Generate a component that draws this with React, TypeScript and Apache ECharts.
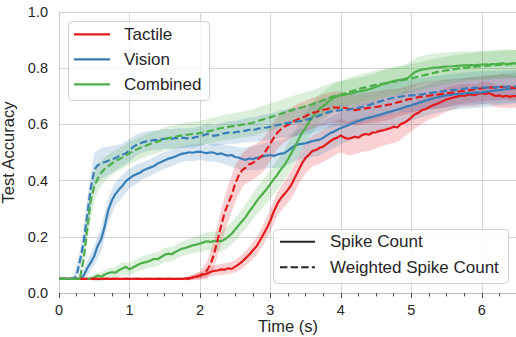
import React, { useEffect, useRef } from "react";
import * as echarts from "echarts";

// mean curves sampled every 0.05 s, from t = 0 to 6.5 s
const STEP = 0.05;
// band half-widths (std) sampled every 0.1 s
const SD_STEP = 0.1;

const xTicks = [0, 1, 2, 3, 4, 5, 6];
const yTicks = [0, 0.2, 0.4, 0.6, 0.8, 1.0];

const tactileSpike = [
  0.05, 0.05, 0.05, 0.05, 0.05, 0.05, 0.05, 0.05, 0.05, 0.05,
  0.05, 0.05, 0.05, 0.05, 0.05, 0.05, 0.05, 0.05, 0.05, 0.05,
  0.05, 0.05, 0.05, 0.05, 0.05, 0.05, 0.05, 0.05, 0.05, 0.05,
  0.05, 0.05, 0.05, 0.05, 0.05, 0.05, 0.052, 0.051, 0.056, 0.058,
  0.062, 0.066, 0.069, 0.075, 0.079, 0.08, 0.084, 0.083, 0.088, 0.086,
  0.094, 0.102, 0.112, 0.124, 0.136, 0.151, 0.165, 0.186, 0.208, 0.231,
  0.258, 0.291, 0.318, 0.338, 0.352, 0.368, 0.386, 0.412, 0.437, 0.462,
  0.481, 0.493, 0.506, 0.509, 0.517, 0.521, 0.531, 0.54, 0.548, 0.553,
  0.561, 0.553, 0.549, 0.552, 0.556, 0.553, 0.562, 0.566, 0.563, 0.571,
  0.572, 0.577, 0.579, 0.583, 0.586, 0.592, 0.589, 0.601, 0.606, 0.614,
  0.624, 0.636, 0.641, 0.651, 0.654, 0.661, 0.667, 0.672, 0.677, 0.683,
  0.689, 0.692, 0.696, 0.699, 0.703, 0.701, 0.705, 0.707, 0.704, 0.709,
  0.711, 0.708, 0.712, 0.706, 0.701, 0.703, 0.699, 0.702, 0.698, 0.701, 0.7,
];

const tactileWeighted = [
  0.05, 0.05, 0.05, 0.05, 0.05, 0.05, 0.05, 0.05, 0.05, 0.05,
  0.05, 0.05, 0.05, 0.05, 0.05, 0.05, 0.05, 0.05, 0.05, 0.05,
  0.05, 0.05, 0.05, 0.05, 0.05, 0.05, 0.05, 0.05, 0.05, 0.05,
  0.05, 0.05, 0.05, 0.05, 0.05, 0.05, 0.05, 0.053, 0.055, 0.058,
  0.062, 0.069, 0.081, 0.102, 0.138, 0.188, 0.238, 0.286, 0.318, 0.348,
  0.388, 0.418, 0.437, 0.446, 0.458, 0.463, 0.471, 0.482, 0.492, 0.512,
  0.532, 0.553, 0.571, 0.583, 0.592, 0.599, 0.607, 0.614, 0.619, 0.624,
  0.629, 0.636, 0.641, 0.644, 0.648, 0.652, 0.654, 0.658, 0.661, 0.659,
  0.662, 0.659, 0.656, 0.652, 0.651, 0.653, 0.655, 0.657, 0.659, 0.661,
  0.662, 0.664, 0.667, 0.669, 0.671, 0.674, 0.678, 0.681, 0.684, 0.689,
  0.691, 0.694, 0.697, 0.699, 0.701, 0.702, 0.704, 0.706, 0.707, 0.709,
  0.711, 0.712, 0.714, 0.716, 0.718, 0.719, 0.721, 0.723, 0.725, 0.726,
  0.728, 0.729, 0.731, 0.732, 0.731, 0.733, 0.734, 0.732, 0.731, 0.73, 0.729,
];

const visionSpike = [
  0.05, 0.05, 0.05, 0.05, 0.05, 0.05, 0.05, 0.062, 0.088, 0.108,
  0.132, 0.168, 0.192, 0.238, 0.296, 0.329, 0.352, 0.368, 0.381, 0.398,
  0.408, 0.417, 0.423, 0.428, 0.437, 0.442, 0.447, 0.452, 0.461, 0.466,
  0.472, 0.478, 0.481, 0.486, 0.491, 0.496, 0.498, 0.501, 0.499, 0.502,
  0.503, 0.5, 0.498, 0.501, 0.499, 0.494, 0.497, 0.492, 0.489, 0.491,
  0.484, 0.482, 0.477, 0.474, 0.479, 0.476, 0.481, 0.483, 0.487, 0.489,
  0.491, 0.488, 0.493, 0.496, 0.498, 0.507, 0.516, 0.524, 0.529, 0.531,
  0.533, 0.537, 0.541, 0.543, 0.546, 0.552, 0.561, 0.569, 0.574, 0.581,
  0.587, 0.592, 0.597, 0.602, 0.608, 0.612, 0.617, 0.621, 0.624, 0.627,
  0.631, 0.634, 0.638, 0.642, 0.645, 0.649, 0.652, 0.656, 0.661, 0.665,
  0.668, 0.672, 0.676, 0.68, 0.684, 0.688, 0.692, 0.695, 0.698, 0.701,
  0.703, 0.705, 0.707, 0.708, 0.709, 0.71, 0.711, 0.712, 0.713, 0.713,
  0.714, 0.716, 0.718, 0.719, 0.721, 0.722, 0.724, 0.725, 0.727, 0.728, 0.73,
];

const visionWeighted = [
  0.05, 0.05, 0.05, 0.05, 0.05, 0.061, 0.118, 0.182, 0.275, 0.372,
  0.438, 0.455, 0.462, 0.466, 0.471, 0.476, 0.48, 0.487, 0.492, 0.497,
  0.508, 0.519, 0.527, 0.532, 0.537, 0.54, 0.542, 0.545, 0.543, 0.547,
  0.549, 0.551, 0.548, 0.552, 0.55, 0.553, 0.551, 0.549, 0.552, 0.555,
  0.558, 0.561, 0.566, 0.563, 0.559, 0.562, 0.566, 0.568, 0.571, 0.569,
  0.572, 0.574, 0.576, 0.578, 0.581, 0.579, 0.583, 0.586, 0.588, 0.589,
  0.592, 0.595, 0.598, 0.6, 0.603, 0.605, 0.607, 0.609, 0.611, 0.613,
  0.616, 0.619, 0.623, 0.627, 0.632, 0.636, 0.641, 0.645, 0.648, 0.649,
  0.651, 0.653, 0.652, 0.655, 0.657, 0.659, 0.662, 0.665, 0.669, 0.673,
  0.677, 0.681, 0.685, 0.689, 0.692, 0.695, 0.698, 0.699, 0.701, 0.702,
  0.703, 0.704, 0.706, 0.707, 0.709, 0.711, 0.713, 0.715, 0.716, 0.718,
  0.72, 0.722, 0.723, 0.724, 0.726, 0.727, 0.728, 0.729, 0.73, 0.73,
  0.731, 0.731, 0.732, 0.733, 0.732, 0.733, 0.734, 0.734, 0.735, 0.734, 0.735,
];

const combinedSpike = [
  0.05, 0.05, 0.05, 0.05, 0.05, 0.05, 0.05, 0.05, 0.05, 0.052,
  0.055, 0.062, 0.058, 0.066, 0.071, 0.074, 0.072, 0.081, 0.087, 0.093,
  0.084, 0.091, 0.098, 0.104, 0.108, 0.111, 0.116, 0.122, 0.12, 0.128,
  0.136, 0.14, 0.138, 0.146, 0.152, 0.158, 0.161, 0.165, 0.17, 0.172,
  0.176, 0.18, 0.184, 0.182, 0.185, 0.186, 0.184, 0.19, 0.2, 0.211,
  0.226, 0.241, 0.256, 0.271, 0.29, 0.306, 0.325, 0.341, 0.356, 0.371,
  0.388, 0.405, 0.421, 0.44, 0.456, 0.476, 0.499, 0.521, 0.546, 0.57,
  0.589, 0.609, 0.626, 0.641, 0.656, 0.666, 0.676, 0.686, 0.695, 0.701,
  0.704, 0.706, 0.708, 0.711, 0.714, 0.717, 0.719, 0.722, 0.725, 0.729,
  0.734, 0.739, 0.744, 0.746, 0.751, 0.754, 0.757, 0.759, 0.761, 0.765,
  0.775, 0.786, 0.791, 0.795, 0.797, 0.799, 0.801, 0.802, 0.803, 0.805,
  0.806, 0.806, 0.807, 0.808, 0.809, 0.81, 0.81, 0.811, 0.81, 0.812,
  0.813, 0.814, 0.812, 0.815, 0.814, 0.816, 0.817, 0.815, 0.816, 0.818, 0.816,
];

const combinedWeighted = [
  0.05, 0.05, 0.05, 0.05, 0.05, 0.05, 0.058, 0.118, 0.228, 0.329,
  0.378, 0.408, 0.428, 0.442, 0.452, 0.461, 0.469, 0.476, 0.482, 0.49,
  0.497, 0.505, 0.511, 0.516, 0.521, 0.526, 0.531, 0.536, 0.539, 0.544,
  0.548, 0.551, 0.553, 0.556, 0.559, 0.561, 0.563, 0.564, 0.566, 0.567,
  0.569, 0.571, 0.574, 0.577, 0.58, 0.584, 0.587, 0.589, 0.591, 0.593,
  0.595, 0.597, 0.599, 0.601, 0.603, 0.606, 0.61, 0.614, 0.618, 0.622,
  0.626, 0.63, 0.634, 0.638, 0.642, 0.646, 0.65, 0.654, 0.657, 0.661,
  0.664, 0.668, 0.672, 0.676, 0.681, 0.686, 0.691, 0.696, 0.7, 0.703,
  0.706, 0.71, 0.714, 0.718, 0.722, 0.726, 0.729, 0.732, 0.735, 0.738,
  0.741, 0.743, 0.745, 0.748, 0.75, 0.752, 0.754, 0.756, 0.759, 0.761,
  0.764, 0.767, 0.77, 0.773, 0.776, 0.779, 0.782, 0.785, 0.788, 0.79,
  0.792, 0.794, 0.796, 0.798, 0.8, 0.801, 0.802, 0.804, 0.805, 0.806,
  0.807, 0.808, 0.809, 0.81, 0.811, 0.812, 0.812, 0.813, 0.814, 0.814, 0.815,
];

const tactileSpikeSd = [
  0, 0, 0, 0, 0, 0, 0, 0, 0, 0,
  0, 0, 0, 0, 0, 0, 0, 0, 0.004, 0.008,
  0.012, 0.015, 0.018, 0.02, 0.02, 0.022, 0.025, 0.028, 0.032, 0.036,
  0.04, 0.042, 0.045, 0.05, 0.052, 0.055, 0.055, 0.057, 0.058, 0.06,
  0.06, 0.06, 0.062, 0.06, 0.058, 0.057, 0.055, 0.055, 0.052, 0.05,
  0.048, 0.047, 0.045, 0.045, 0.044, 0.043, 0.042, 0.04, 0.04, 0.04,
  0.04, 0.04, 0.04, 0.04, 0.04, 0.04,
];

const tactileWeightedSd = [
  0, 0, 0, 0, 0, 0, 0, 0, 0, 0,
  0, 0, 0, 0, 0, 0, 0, 0, 0.005, 0.01,
  0.015, 0.03, 0.05, 0.06, 0.065, 0.065, 0.06, 0.06, 0.06, 0.06,
  0.06, 0.058, 0.055, 0.055, 0.055, 0.055, 0.055, 0.055, 0.055, 0.055,
  0.055, 0.055, 0.055, 0.055, 0.055, 0.055, 0.055, 0.055, 0.05, 0.05,
  0.05, 0.05, 0.05, 0.05, 0.05, 0.05, 0.045, 0.045, 0.045, 0.045,
  0.045, 0.045, 0.045, 0.045, 0.045, 0.045,
];

const visionSpikeSd = [
  0, 0, 0, 0.005, 0.025, 0.035, 0.045, 0.045, 0.04, 0.04,
  0.035, 0.035, 0.03, 0.03, 0.03, 0.03, 0.03, 0.028, 0.028, 0.03,
  0.03, 0.03, 0.032, 0.034, 0.036, 0.038, 0.04, 0.042, 0.044, 0.045,
  0.046, 0.048, 0.05, 0.052, 0.054, 0.055, 0.056, 0.057, 0.058, 0.058,
  0.058, 0.058, 0.058, 0.057, 0.056, 0.055, 0.055, 0.055, 0.055, 0.055,
  0.055, 0.055, 0.055, 0.055, 0.055, 0.055, 0.055, 0.055, 0.055, 0.055,
  0.055, 0.055, 0.055, 0.055, 0.055, 0.055,
];

const visionWeightedSd = [
  0, 0, 0.005, 0.035, 0.06, 0.06, 0.055, 0.05, 0.045, 0.04,
  0.04, 0.038, 0.036, 0.035, 0.035, 0.035, 0.035, 0.035, 0.035, 0.035,
  0.035, 0.036, 0.037, 0.038, 0.04, 0.041, 0.042, 0.044, 0.045, 0.046,
  0.047, 0.048, 0.05, 0.05, 0.052, 0.053, 0.054, 0.055, 0.055, 0.056,
  0.056, 0.057, 0.057, 0.058, 0.058, 0.058, 0.058, 0.058, 0.058, 0.058,
  0.058, 0.058, 0.058, 0.058, 0.058, 0.058, 0.058, 0.058, 0.058, 0.058,
  0.058, 0.058, 0.058, 0.058, 0.058, 0.058,
];

const combinedSpikeSd = [
  0, 0, 0, 0, 0, 0.012, 0.016, 0.018, 0.02, 0.022,
  0.022, 0.022, 0.024, 0.024, 0.025, 0.025, 0.026, 0.026, 0.027, 0.028,
  0.03, 0.032, 0.034, 0.036, 0.038, 0.04, 0.042, 0.045, 0.047, 0.05,
  0.052, 0.054, 0.055, 0.056, 0.056, 0.055, 0.054, 0.052, 0.05, 0.05,
  0.05, 0.05, 0.05, 0.05, 0.05, 0.05, 0.05, 0.05, 0.05, 0.05,
  0.05, 0.05, 0.05, 0.05, 0.05, 0.05, 0.05, 0.05, 0.05, 0.05,
  0.05, 0.05, 0.05, 0.05, 0.05, 0.05,
];

const combinedWeightedSd = [
  0, 0, 0, 0.01, 0.05, 0.05, 0.045, 0.042, 0.04, 0.04,
  0.04, 0.04, 0.04, 0.04, 0.041, 0.041, 0.042, 0.042, 0.043, 0.043,
  0.044, 0.044, 0.045, 0.045, 0.046, 0.046, 0.047, 0.047, 0.048, 0.048,
  0.049, 0.049, 0.05, 0.05, 0.05, 0.05, 0.05, 0.05, 0.05, 0.05,
  0.05, 0.05, 0.05, 0.05, 0.05, 0.05, 0.05, 0.05, 0.05, 0.05,
  0.05, 0.05, 0.05, 0.05, 0.05, 0.05, 0.05, 0.05, 0.05, 0.05,
  0.05, 0.05, 0.05, 0.05, 0.05, 0.05,
];

const RED = "#e41a1c";
const BLUE = "#377eb8";
const GREEN = "#4daf4a";
const DARK = "#262626";
const DASH = [7.4, 3.2];
const FONT = "'Liberation Sans', Arial, sans-serif";

const modalityNames = ["Tactile", "Vision", "Combined"];
const modalityColors = [RED, BLUE, GREEN];
const styleNames = ["Spike Count", "Weighted Spike Count"];
const xTitle = "Time (s)";
const yTitle = "Test Accuracy";

function meanPoints(arr: number[]) {
  return arr.map((v, i) => [Math.round(i * STEP * 100) / 100, v]);
}

function bandPoints(mean: number[], sd: number[]) {
  const ratio = Math.round(SD_STEP / STEP);
  return sd.map((s, j) => {
    const m = mean[j * ratio];
    return [Math.round(j * SD_STEP * 100) / 100, m - s, m + s];
  });
}

function bandSeries(pts: number[][], color: string) {
  return {
    type: "custom",
    coordinateSystem: "cartesian2d",
    xAxisIndex: 0,
    yAxisIndex: 0,
    z: 1,
    silent: true,
    clip: true,
    encode: { x: 0, y: [1, 2] },
    data: pts,
    renderItem: (params: any, api: any) => {
      if (params.dataIndex !== 0) return null;
      const upper = pts.map((p) => api.coord([p[0], p[2]]));
      const lower = pts.map((p) => api.coord([p[0], p[1]])).reverse();
      return {
        type: "polygon",
        shape: { points: upper.concat(lower) },
        style: { fill: color, opacity: 0.2 },
      };
    },
  };
}

function lineSeries(pts: number[][], color: string, dashed: boolean) {
  return {
    type: "line",
    xAxisIndex: 0,
    yAxisIndex: 0,
    z: 3,
    data: pts,
    symbol: "none",
    showSymbol: false,
    silent: true,
    lineStyle: { color, width: 2.2, type: dashed ? DASH : "solid" },
  };
}

export default function App() {
  const ref = useRef<HTMLDivElement>(null);

  useEffect(() => {
    if (!ref.current) return;
    const chart = echarts.init(ref.current, undefined, { renderer: "svg" });

    const means = [
      [tactileSpike, tactileSpikeSd, RED, false],
      [visionSpike, visionSpikeSd, BLUE, false],
      [combinedSpike, combinedSpikeSd, GREEN, false],
      [tactileWeighted, tactileWeightedSd, RED, true],
      [visionWeighted, visionWeightedSd, BLUE, true],
      [combinedWeighted, combinedWeightedSd, GREEN, true],
    ] as [number[], number[], string, boolean][];

    const series: any[] = [];
    means.forEach(([m, sd, c]) => series.push(bandSeries(bandPoints(m, sd), c)));
    means.forEach(([m, , c, d]) => series.push(lineSeries(meanPoints(m), c, d)));

    const legendTop = 34.3;
    const legendGap = 25;
    const graphic: any[] = [
      {
        type: "text",
        z: 50,
        x: 288,
        y: 326,
        style: {
          text: xTitle,
          fontSize: 16.5,
          fontFamily: FONT,
          fill: DARK,
          align: "center",
          verticalAlign: "middle",
        },
      },
      {
        type: "rect",
        z: 100,
        shape: { x: 68.5, y: 21.5, width: 141, height: 79, r: 4 },
        style: { fill: "rgba(255,255,255,0.8)", stroke: "#d0d0d0", lineWidth: 1 },
      },
      ...modalityNames.flatMap((name, i) => [
        {
          type: "line",
          z: 101,
          shape: { x1: 74, y1: legendTop + i * legendGap, x2: 110, y2: legendTop + i * legendGap },
          style: { stroke: modalityColors[i], lineWidth: 2.2 },
        },
        {
          type: "text",
          z: 101,
          x: 124,
          y: legendTop + i * legendGap,
          style: {
            text: name,
            fontSize: 17,
            fontFamily: FONT,
            fill: DARK,
            verticalAlign: "middle",
            align: "left",
          },
        },
      ]),
      {
        type: "rect",
        z: 100,
        shape: { x: 273.5, y: 229.5, width: 235, height: 54, r: 4 },
        style: { fill: "rgba(255,255,255,0.8)", stroke: "#d0d0d0", lineWidth: 1 },
      },
      ...styleNames.flatMap((name, i) => [
        {
          type: "line",
          z: 101,
          shape: { x1: 280, y1: 241.7 + i * 25.6, x2: 315, y2: 241.7 + i * 25.6 },
          style: { stroke: DARK, lineWidth: 2, lineDash: i === 1 ? DASH : null },
        },
        {
          type: "text",
          z: 101,
          x: 330,
          y: 241.7 + i * 25.6,
          style: {
            text: name,
            fontSize: 17,
            fontFamily: FONT,
            fill: DARK,
            verticalAlign: "middle",
            align: "left",
          },
        },
      ]),
    ];

    chart.setOption({
      animation: false,
      textStyle: { fontFamily: FONT },
      grid: {
        left: 59,
        top: 12,
        width: 458,
        height: 281,
        containLabel: false,
        outerBoundsMode: "none",
      },
      xAxis: [
        {
          type: "value",
          min: 0,
          max: 6.5,
          interval: 1,
          position: "bottom",
          axisLine: { show: true, lineStyle: { color: "#bdbdbd", width: 1 } },
          axisTick: { show: true, length: 5, lineStyle: { color: "#4d4d4d", width: 1 } },
          axisLabel: {
            fontSize: 14.5,
            color: DARK,
            margin: 9,
            fontFamily: FONT,
            formatter: (v: number) => (xTicks.includes(v) ? String(v) : ""),
          },
          splitLine: { show: true, lineStyle: { color: "#d4d4d4", width: 1 } },
        },
        {
          type: "value",
          min: 0,
          max: 6.5,
          interval: 0.25,
          position: "bottom",
          axisLine: { show: false },
          axisTick: { show: true, length: 3.5, lineStyle: { color: "#4d4d4d", width: 1 } },
          axisLabel: { show: false },
          splitLine: { show: false },
        },
      ],
      yAxis: {
        type: "value",
        min: 0,
        max: 1,
        interval: 0.2,
        name: yTitle,
        nameLocation: "middle",
        nameGap: 41,
        nameRotate: 90,
        nameTextStyle: { fontSize: 16.5, color: DARK, fontFamily: FONT },
        axisLine: { show: true, lineStyle: { color: "#cccccc", width: 1 } },
        axisTick: { show: false },
        axisLabel: {
          fontSize: 14.5,
          color: DARK,
          margin: 11,
          fontFamily: FONT,
          formatter: (v: number) => (yTicks.some((t) => Math.abs(t - v) < 1e-9) ? v.toFixed(1) : ""),
        },
        splitLine: { show: true, lineStyle: { color: "#d4d4d4", width: 1 } },
      },
      series,
      graphic,
    });

    return () => chart.dispose();
  }, []);

  return (
    <div
      ref={ref}
      style={{ position: "fixed", left: 0, top: 0, width: 516, height: 337, background: "#fff" }}
    />
  );
}
